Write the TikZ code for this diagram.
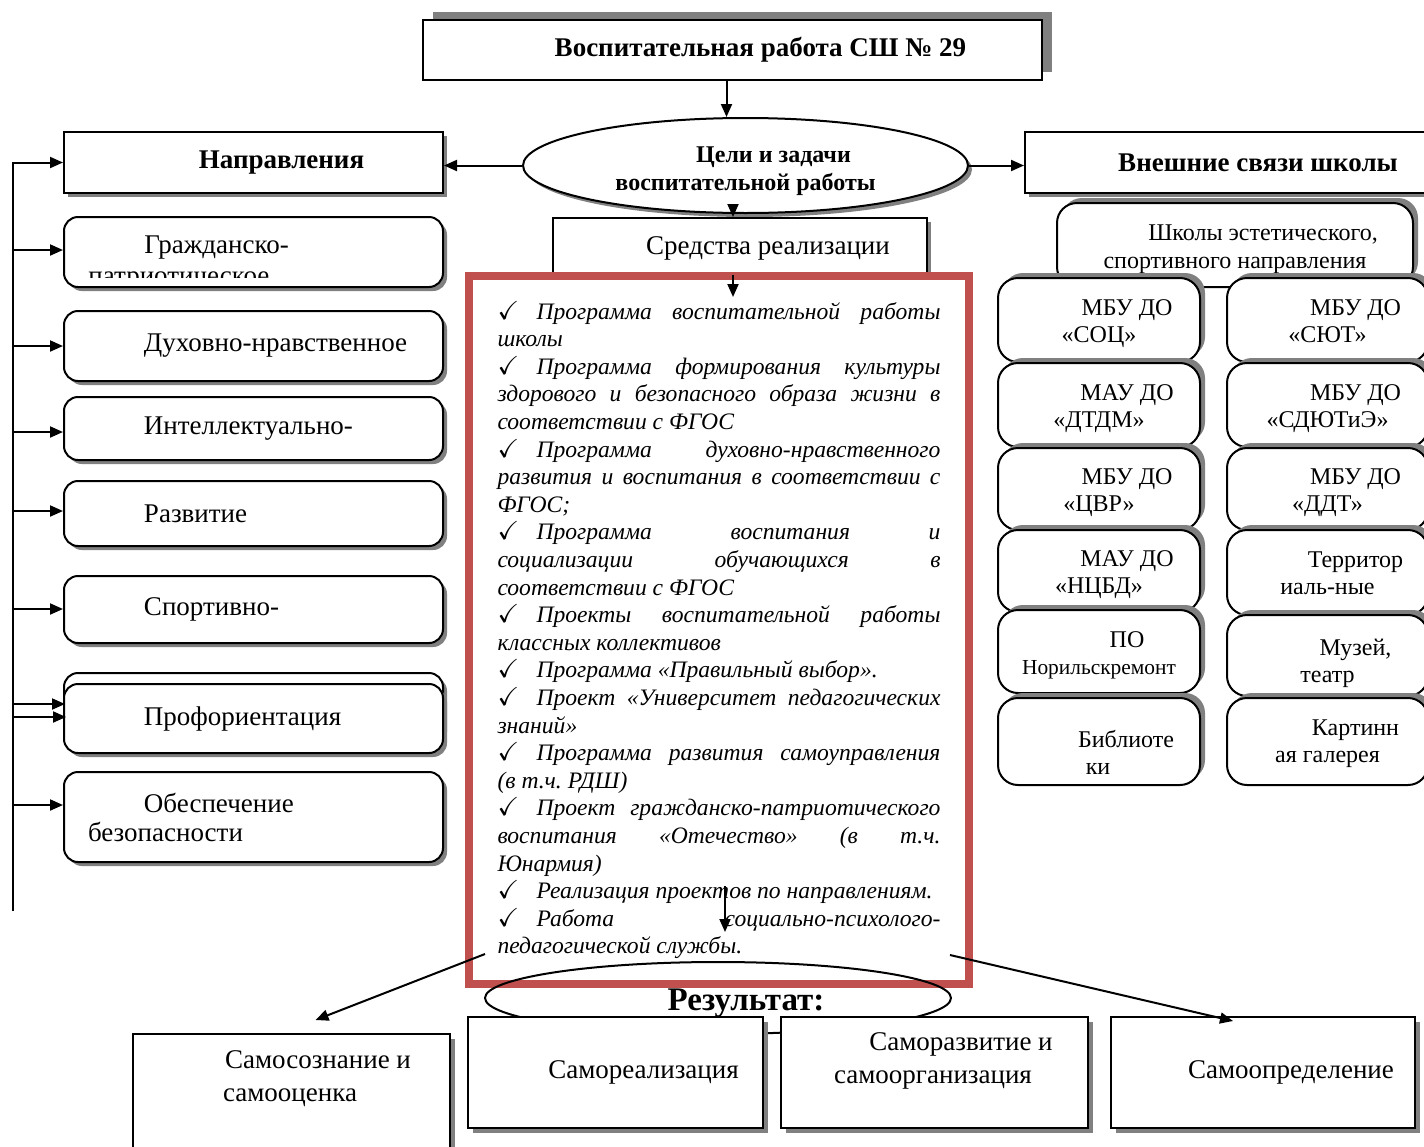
\documentclass[tikz,border=0pt]{standalone}
\usepackage{amssymb}
\usepackage{fontspec}
\setmainfont{Liberation Serif}
\usepackage{xcolor}
\definecolor{ColFrame}{RGB}{192,80,77}
\definecolor{ColShade}{RGB}{128,128,128}
\usepackage{tikz}
\usetikzlibrary{shapes.geometric}
\usetikzlibrary{shadows}
\usetikzlibrary{arrows.meta}
\setlength{\parindent}{0pt}
\newcommand{\SizeMain}{\fontsize{13.5pt}{14.5pt}\selectfont}
\newcommand{\SizeHead}{\fontsize{13.5pt}{14pt}\selectfont}
\newcommand{\SizeGoal}{\fontsize{12pt}{14pt}\selectfont}
\newcommand{\SizeOrg}{\fontsize{12pt}{13.5pt}\selectfont}
\newcommand{\SizeSmall}{\fontsize{10.7pt}{13.5pt}\selectfont}
\newcommand{\SizeList}{\fontsize{11.8pt}{13.8pt}\selectfont}
\newcommand{\SizeOut}{\fontsize{13.5pt}{16.5pt}\selectfont}
\newcommand{\SizeRes}{\fontsize{16.5pt}{18pt}\selectfont}
\newcommand{\Ind}{\hspace*{28pt}}
% two lines of an organisation box, with struts
\newcommand{\Two}[3][12pt]{\Ind\rule{0pt}{#1}#2\\#3\rule[-3.5pt]{0pt}{3.5pt}}
\newlength{\ListW}\setlength{\ListW}{221.5pt}
\newcommand{\Tick}{\makebox[19.5pt][l]{\upshape\fontsize{13pt}{13pt}\selectfont$\checkmark$}}
\newcommand{\JL}[1]{{\spaceskip=0pt\xspaceskip=0pt\hbox to \ListW{#1}}}
\newcommand{\LL}[1]{{\spaceskip=0pt\xspaceskip=0pt\hbox to \ListW{#1\hfil}}}
\tikzstyle{Shade}=[drop shadow={shadow xshift=2pt,shadow yshift=-2pt,fill=ColShade,opacity=1}]
\tikzstyle{ShadeUp}=[drop shadow={shadow xshift=2.5pt,shadow yshift=2.5pt,fill=ColShade,opacity=1}]
\tikzstyle{ShadeTop}=[drop shadow={shadow xshift=5pt,shadow yshift=4pt,fill=ColShade,opacity=1}]
\tikzstyle{Box}=[rectangle,draw=black,fill=white,line width=1pt,inner sep=0pt,align=center,font=\SizeMain]
\tikzstyle{Bold}=[font=\SizeHead\bfseries]
\tikzstyle{Dir}=[Box,rounded corners=7pt,Shade,text width=165.5pt,inner xsep=12pt,inner ysep=0pt,align=left]
\tikzstyle{Org}=[Box,rounded corners=10pt,ShadeUp,font=\SizeOrg]
\tikzstyle{Out}=[Box,drop shadow={shadow xshift=2.5pt,shadow yshift=-2.5pt,fill=ColShade,opacity=1},font=\SizeOut]
\tikzstyle{Label}=[inner sep=0pt,align=center,font=\SizeMain]
\tikzstyle{Frame}=[draw=ColFrame,line width=4pt,fill=white,inner sep=0pt,
minimum width=250pt,minimum height=354pt,text width=\ListW,font=\SizeList\itshape\frenchspacing]
\tikzstyle{Link}=[draw=black,line width=1pt,-{Triangle[length=6.5pt,width=5.5pt]}]

\begin{document}
\begin{tikzpicture}[x=0.5pt,y=-0.5pt]
    \useasboundingbox (0,0) rectangle (1424,1146);
    % head of the scheme
    \node[Box,ShadeTop,Bold,minimum width=309.5pt,minimum height=30pt](top)at(732.5,50){\Ind Воспитательная работа СШ № 29};
    \node[ellipse,draw=black,fill=white,line width=1pt,inner sep=0pt,Shade,font=\SizeGoal\bfseries,align=center,
        minimum width=222.5pt,minimum height=47.5pt](goals)at(745.5,165.5){\Ind\rule{0pt}{14pt}Цели и задачи\\воспитательной работы};
    \node[Box,Shade,Bold,minimum width=189.5pt,minimum height=30.5pt](dir)at(253.5,162.5){\Ind Направления};
    \node[Box,Shade,Bold,minimum width=205pt,minimum height=30.5pt](ext)at(1230,162.5){\Ind Внешние связи школы};
    % directions
    \node[Dir,minimum height=35pt](civ)at(253.5,252){};
    \node[Label,anchor=base west](tciv)at(144,253){Гражданско-};
    \begin{scope}
        \clip (66,262) rectangle (441,277);
        \node[Label,anchor=base west](tciv2)at(88,284){патриотическое};
    \end{scope}
    \node[Dir,minimum height=35pt](spir)at(253.5,346){\Ind Духовно-нравственное};
    \node[Dir,minimum height=31.5pt](intel)at(253.5,428.5){\Ind Интеллектуально-};
    \node[Dir,minimum height=32.5pt](dev)at(253.5,513.5){\Ind Развитие};
    \node[Dir,minimum height=33.5pt](sport)at(253.5,609.5){\Ind Спортивно-};
    \node[Dir,minimum height=34.5pt](profb)at(253.5,707.5){};
    \node[Dir,minimum height=34.5pt](prof)at(253.5,718.5){\Ind Профориентация};
    \node[Dir,minimum height=45pt](safe)at(253.5,817){\Ind Обеспечение\\безопасности};
    % outer links
    \node[Org,minimum width=178pt,minimum height=42pt,font=\fontsize{12pt}{14pt}\selectfont](sch)at(1235,245){\Two[12.5pt]{Школы эстетического,}{спортивного направления}};
    \node[Org,minimum width=101pt,minimum height=42pt](soc)at(1099,320){\Two{МБУ ДО}{«СОЦ»}};
    \node[Org,minimum width=100.5pt,minimum height=42pt](syut)at(1327.5,320){\Two{МБУ ДО}{«СЮТ»}};
    \node[Org,minimum width=101pt,minimum height=42pt](dtdm)at(1099,405){\Two{МАУ ДО}{«ДТДМ»}};
    \node[Org,minimum width=100.5pt,minimum height=42pt](sdyut)at(1327.5,405){\Two{МБУ ДО}{«СДЮТиЭ»}};
    \node[Org,minimum width=101pt,minimum height=41pt](cvr)at(1099,489){\Two{МБУ ДО}{«ЦВР»}};
    \node[Org,minimum width=100.5pt,minimum height=41pt](ddt)at(1327.5,489){\Two{МБУ ДО}{«ДДТ»}};
    \node[Org,minimum width=101pt,minimum height=41pt](ncbd)at(1099,571){\Two{МАУ ДО}{«НЦБД»}};
    \node[Org,minimum width=100.5pt,minimum height=42.5pt](terr)at(1327.5,572.5){\Two{Территор}{иаль-ные}};
    \node[Org,minimum width=101pt,minimum height=41.5pt](po)at(1099,651.5){\Two[13pt]{ПО}{{\SizeSmall Норильскремонт}}};
    \node[Org,minimum width=100.5pt,minimum height=40.5pt](mus)at(1327.5,655.5){\Two[16.5pt]{Музей,}{театр}};
    \node[Org,minimum width=101pt,minimum height=43.5pt](lib)at(1099,741.5){};
    \node[Label,font=\SizeOrg](tlib)at(1098,752){\Ind Библиоте\\ки};
    \node[Org,minimum width=100.5pt,minimum height=43.5pt](gal)at(1327.5,741.5){\Two[11pt]{Картинн}{ая галерея}};
    % means
    \node[Box,Shade,minimum width=187pt,minimum height=28pt](means)at(740,246){\Ind\rule{0pt}{11pt}Средства реализации};
    \node[Frame](list)at(719,630){%
        \JL{\Tick Программа воспитательной работы}
        \LL{школы}
        \JL{\Tick Программа формирования культуры}
        \JL{здорового и безопасного образа жизни в}
        \LL{соответствии с ФГОС}
        \JL{\Tick Программа духовно-нравственного}
        \JL{развития и воспитания в соответствии с}
        \LL{ФГОС;}
        \JL{\Tick Программа воспитания и}
        \JL{социализации обучающихся в}
        \LL{соответствии с ФГОС}
        \JL{\Tick Проекты воспитательной работы}
        \LL{классных коллективов}
        \LL{\Tick Программа «Правильный выбор».}
        \JL{\Tick Проект «Университет педагогических}
        \LL{знаний»}
        \JL{\Tick Программа развития самоуправления}
        \LL{(в т.ч. РДШ)}
        \JL{\Tick Проект гражданско-патриотического}
        \JL{воспитания «Отечество» (в т.ч.}
        \LL{Юнармия)}
        \LL{\Tick Реализация проектов по направлениям.}
        \JL{\Tick Работа социально-психолого-}
        \LL{педагогической службы.}};
    \draw[ColFrame,line width=1pt]([shift={(3pt,3pt)}]list.south west) rectangle ([shift={(-3pt,-3pt)}]list.north east);
    % results
    \node[ellipse,draw=black,line width=1pt,inner sep=0pt,font=\SizeRes\bfseries,
        minimum width=233pt,minimum height=36pt](res)at(718,998){\Ind\rule{0pt}{16pt}Результат:};
    \node[Out,minimum width=158.5pt,minimum height=70pt](selfc)at(291.5,1104){};
    \node[Label,font=\SizeOut](tselfc)at(290,1079){\Ind Самосознание и\\самооценка};
    \node[Out,minimum width=147.5pt,minimum height=55.5pt](sreal)at(615.5,1072.5){\Ind Самореализация};
    \node[Out,minimum width=153.5pt,minimum height=55.5pt](sdev)at(934.5,1072.5){};
    \node[Label,font=\SizeOut](tsdev)at(933,1061){\Ind Саморазвитие и\\самоорганизация};
    \node[Out,minimum width=152pt,minimum height=55.5pt](sdet)at(1263,1072.5){\Ind Самоопределение};
    % connectors
    \draw[Link]([xshift=-3pt]top.south)--([xshift=-3pt]top.south |- goals.north);
    \draw[Link](goals.west)--(goals.west -| dir.east);
    \draw[Link](goals.east)--(goals.east -| ext.west);
    \coordinate(g1)at(733,204);
    \draw[Link](g1)--(g1 |- means.north);
    \coordinate(g2)at(733,297);
    \draw[Link](g2 |- means.south)--(g2);
    \coordinate(v1)at(725,886);
    \coordinate(v2)at(725,932);
    \draw[Link](v1)--(v2);
    \coordinate(l1)at(485,954);
    \coordinate(r1)at(950,955);
    \draw[Link](l1)--([shift={(12pt,6.5pt)}]selfc.north);
    \draw[Link](r1)--([shift={(-15pt,-2.5pt)}]sdet.north);
    % trunk on the left
    \coordinate(trunk)at(13,911);
    \draw[Link](trunk)|-(dir.west);
    \coordinate(s1)at(13,250);
    \coordinate(s2)at(13,346);
    \coordinate(s3)at(13,432);
    \coordinate(s4)at(13,511);
    \coordinate(s5)at(13,609);
    \coordinate(s6)at(13,704);
    \coordinate(s7)at(13,717);
    \coordinate(s8)at(13,805);
    \draw[Link](s1)--(s1 -| civ.west);
    \draw[Link](s2)--(s2 -| spir.west);
    \draw[Link](s3)--(s3 -| intel.west);
    \draw[Link](s4)--(s4 -| dev.west);
    \draw[Link](s5)--(s5 -| sport.west);
    \draw[Link](s6)--([xshift=1pt]s6 -| profb.west);
    \draw[Link](s7)--([xshift=1.5pt]s7 -| prof.west);
    \draw[Link](s8)--(s8 -| safe.west);
\end{tikzpicture}
\end{document}
